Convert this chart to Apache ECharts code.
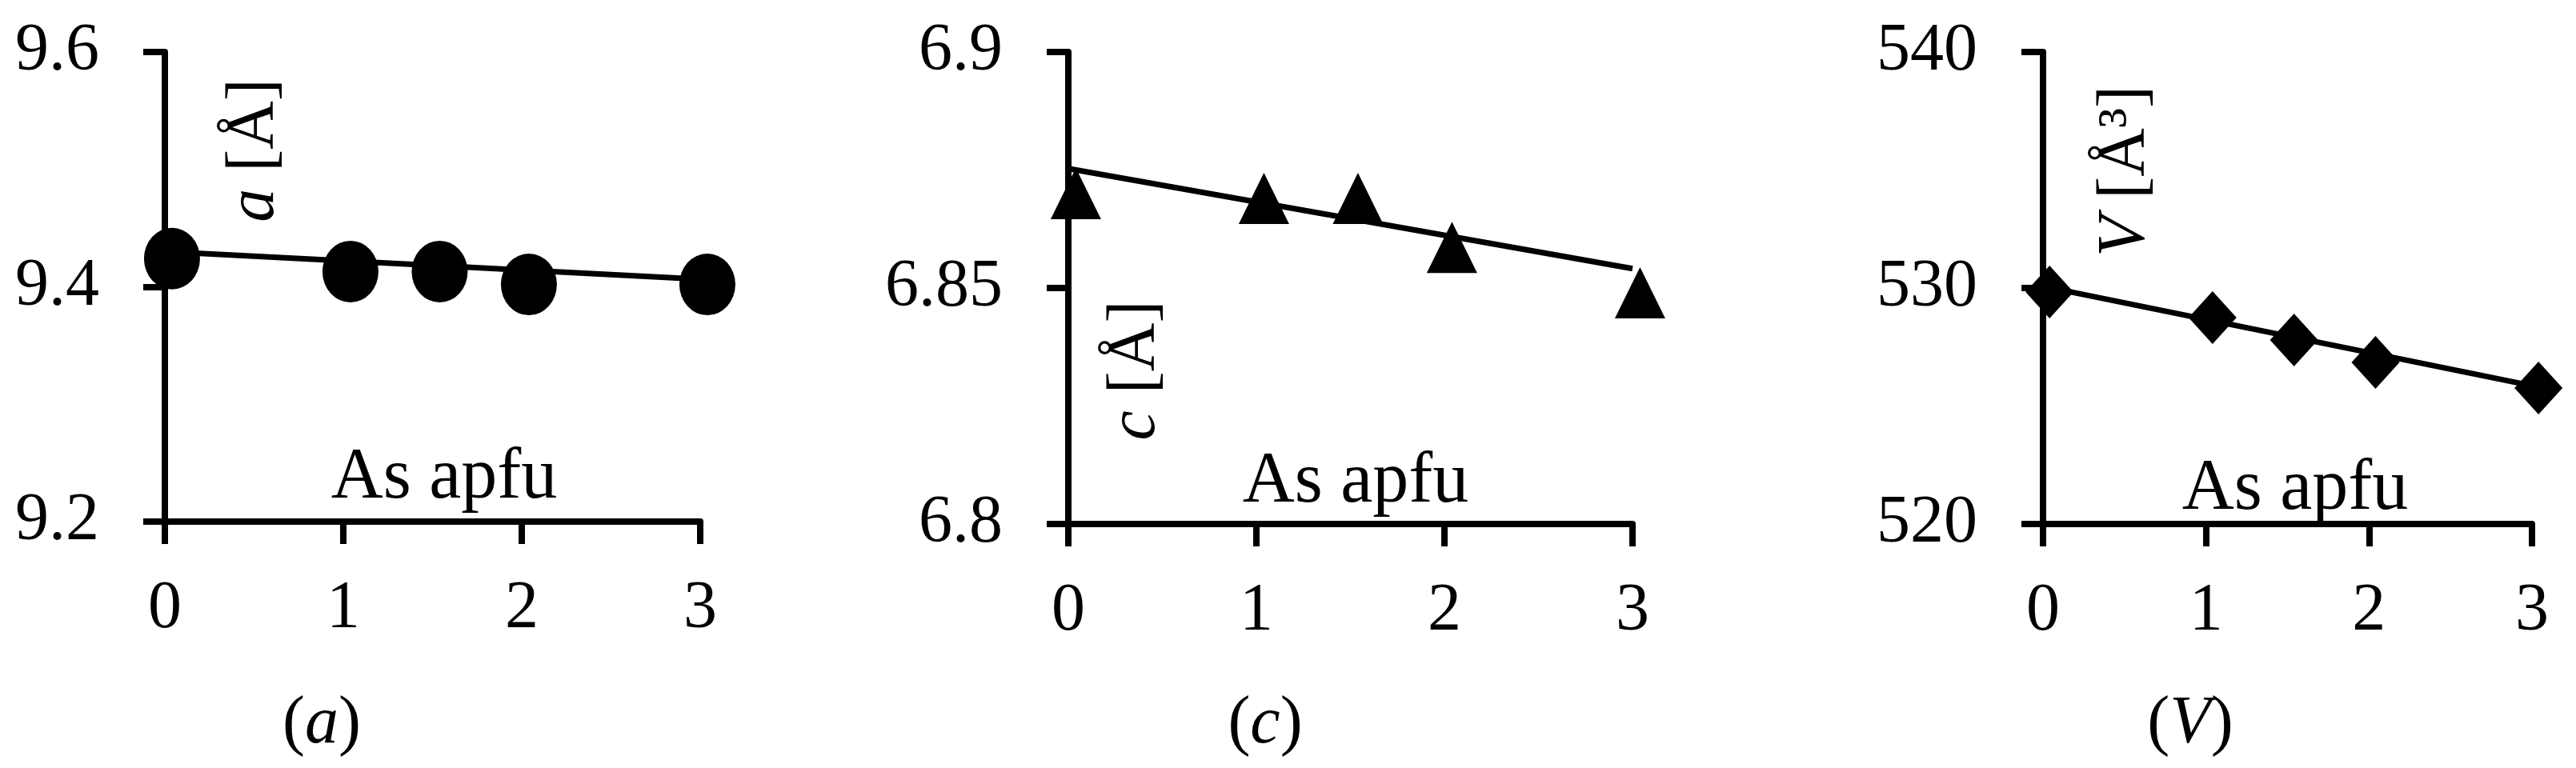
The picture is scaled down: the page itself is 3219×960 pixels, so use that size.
<!DOCTYPE html>
<html><head><meta charset="utf-8">
<script src="https://cdn.jsdelivr.net/npm/echarts@6/dist/echarts.min.js"></script>
<style>html,body{margin:0;padding:0;background:#fff}#c{width:3219px;height:960px}</style>
</head><body><div id="c"></div>
<script>
// Data
const xTicks = ['0', '1', '2', '3'];
const asApfu = [0.04, 1.04, 1.54, 2.04, 3.04];
const aValues = [9.424, 9.413, 9.413, 9.402, 9.402];
const cValues = [6.870, 6.869, 6.869, 6.8586, 6.849];
const vValues = [529.83, 528.75, 527.8, 526.85, 525.76];
const trendX = [0, 3];
const aTrend = [9.430, 9.4065];
const cTrend = [6.8753, 6.8541];
const vTrend = [530.07, 525.86];
const aTicks = { min: 9.2, max: 9.6, interval: 0.2 };
const cTicks = { min: 6.8, max: 6.9, interval: 0.05 };
const vTicks = { min: 520, max: 540, interval: 10 };

const FONT = '"Liberation Serif", "DejaVu Serif", serif';
const FS = 84;

const grids = [
  { left: 206, top: 65, width: 669, height: 587 },
  { left: 1335, top: 65, width: 705, height: 590 },
  { left: 2553, top: 65, width: 611, height: 590 }
];

function xAx(i) {
  return {
    type: 'value', gridIndex: i, min: 0, max: 3, interval: 1,
    axisLine: { show: true, onZero: false, lineStyle: { color: '#000', width: 8 } },
    axisTick: { show: true, length: 28, lineStyle: { color: '#000', width: 8 } },
    axisLabel: { color: '#000', fontFamily: FONT, fontSize: FS, margin: 68,
      formatter: v => xTicks[Math.round(v)] },
    splitLine: { show: false }
  };
}
function yAx(i, t) {
  return {
    type: 'value', gridIndex: i, min: t.min, max: t.max, interval: t.interval,
    axisLine: { show: true, onZero: false, lineStyle: { color: '#000', width: 8 } },
    axisTick: { show: true, length: 27, lineStyle: { color: '#000', width: 8 } },
    axisLabel: { color: '#000', fontFamily: FONT, fontSize: FS, margin: 82 },
    splitLine: { show: false }
  };
}
function pts(xs, ys) { return xs.map((x, k) => [x, ys[k]]); }
function scatter(i, ys, symbol, size) {
  return { type: 'scatter', xAxisIndex: i, yAxisIndex: i, data: pts(asApfu, ys),
    symbol: symbol, symbolSize: size, clip: false, itemStyle: { color: '#000', opacity: 1 }, z: 3 };
}
function trend(i, ys) {
  return { type: 'line', xAxisIndex: i, yAxisIndex: i, data: pts(trendX, ys),
    showSymbol: false, symbol: 'none', lineStyle: { color: '#000', width: 7 }, clip: false, z: 2 };
}
function txt(x, y, text, rot, extra, fs) {
  return { type: 'text', x: x, y: y, rotation: rot || 0,
    style: Object.assign({ text: text, fill: '#000', font: (fs || FS) + 'px ' + FONT, align: 'center', verticalAlign: 'middle' }, extra || {}) };
}
const italicRich = { i: { fontStyle: 'italic', fontFamily: FONT, fontSize: FS, fill: '#000' },
                     n: { fontFamily: FONT, fontSize: FS, fill: '#000' } };

const chart = echarts.init(document.getElementById('c'), null, { renderer: 'canvas' });
chart.setOption({
  animation: false,
  backgroundColor: '#fff',
  grid: grids,
  xAxis: [xAx(0), xAx(1), xAx(2)],
  yAxis: [yAx(0, aTicks), yAx(1, cTicks), yAx(2, vTicks)],
  series: [
    trend(0, aTrend), scatter(0, aValues, 'circle', [70, 77]),
    trend(1, cTrend), scatter(1, cValues, 'triangle', [63, 64]),
    trend(2, vTrend), scatter(2, vValues, 'diamond', [60, 66])
  ],
  graphic: [
    txt(555, 598, 'As apfu', 0, null, 90),
    txt(1694, 603, 'As apfu', 0, null, 90),
    txt(2868, 612, 'As apfu', 0, null, 90),
    txt(319, 188, '{i|a} {n|[Å]}', Math.PI / 2, { rich: italicRich }),
    txt(1420, 463, '{i|c} {n|[Å]}', Math.PI / 2, { rich: italicRich }),
    txt(2657, 214, '{i|V} {n|[Å³]}', Math.PI / 2, { rich: italicRich }),
    txt(402, 906, '{n|(}{i|a}{n|)}', 0, { rich: italicRich }),
    txt(1581, 906, '{n|(}{i|c}{n|)}', 0, { rich: italicRich }),
    txt(2737, 906, '{n|(}{i|V}{n|)}', 0, { rich: italicRich })
  ]
});
</script></body></html>
